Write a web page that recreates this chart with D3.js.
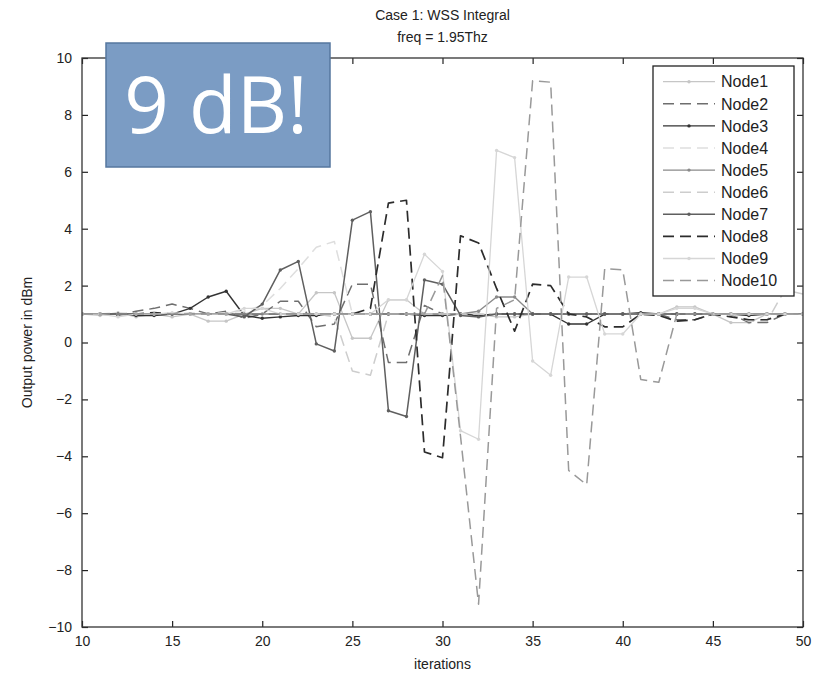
<!DOCTYPE html>
<html>
<head>
<meta charset="utf-8">
<script src="https://cdn.jsdelivr.net/npm/d3@7"></script>
<style>
  body { margin: 0; background: #fff; }
  svg { display: block; font-family: "Liberation Sans", Arial, sans-serif; }
  .tick text { font-size: 14px; fill: #222; }
</style>
</head>
<body>
<svg id="chart" width="825" height="676"></svg>
<script>
/* ---------- data ---------- */
const iterations = d3.range(10, 51);
const nodeNames = ["Node1", "Node2", "Node3", "Node4", "Node5", "Node6", "Node7", "Node8", "Node9", "Node10"];
const xTicks = [10, 15, 20, 25, 30, 35, 40, 45, 50];
const yTicks = [-10, -8, -6, -4, -2, 0, 2, 4, 6, 8, 10];

//             10   11   12   13   14   15   16   17   18   19   20   21   22   23   24   25   26   27   28   29   30   31   32   33   34   35   36   37   38   39   40   41   42   43   44   45   46   47   48   49   50
const node1  = [1.0, 0.95,1.05,0.9, 1.0, 0.9, 1.0, 0.75,0.75,1.0, 1.2, 1.2, 1.0, 1.75,1.75,0.15,0.15,1.5, 1.5, 1.0, 1.0, 1.0, 1.0, 0.9, 0.9, 1.0, 1.0, 1.0, 1.0, 1.0, 1.0, 1.0, 1.0, 1.25,1.25,1.0, 0.7, 0.7, 1.0, 1.0, 1.0];
const node2  = [1.0, 1.0, 0.95,1.1, 1.2, 1.35,1.2, 1.0, 1.1, 0.85,1.0, 1.45,1.45,0.55,0.65,2.05,2.05,-0.7,-0.7,1.3, 1.0, 1.0, 0.95,1.0, 1.0, 1.0, 1.0, 1.0, 1.0, 1.0, 1.0, 1.0, 1.0, 0.8, 0.8, 1.0, 1.0, 0.7, 0.7, 1.0, 1.0];
const node3  = [1.0, 1.0, 1.0, 0.95,0.95,1.0, 1.2, 1.6, 1.8, 0.95,0.85,0.9, 0.95,0.95,1.0, 1.0, 1.0, 1.0, 1.0, 0.95,0.95,1.0, 0.95,1.0, 1.0, 1.0, 1.0, 0.65,0.65,1.0, 1.0, 1.05,1.0, 1.0, 1.0, 1.0, 1.0, 0.95,1.0, 1.0, 1.0];
const node4  = [1.0, 1.0, 1.05,1.0, 1.0, 1.0, 1.05,1.0, 1.05,1.1, 1.3, 1.9, 2.6, 3.35,3.55,1.0, 1.0, 1.0, 1.0, 1.0, 1.0, 1.0, 1.0, 1.0, 1.0, 1.0, 1.0, 1.0, 1.0, 1.0, 1.0, 1.0, 1.0, 1.0, 1.0, 1.0, 1.0, 1.0, 1.0, 1.0, 1.0];
const node5  = [1.0, 1.0, 1.0, 1.0, 1.0, 1.0, 1.0, 1.0, 1.0, 1.0, 1.0, 1.0, 1.0, 1.0, 1.0, 1.0, 1.0, 1.0, 1.0, 1.0, 1.0, 1.0, 1.1, 1.6, 1.6, 1.0, 1.0, 1.0, 1.0, 1.0, 1.0, 1.0, 1.0, 1.0, 1.0, 1.0, 1.0, 1.0, 1.0, 1.0, 1.0];
const node6  = [1.0, 1.0, 1.0, 1.0, 1.0, 1.0, 1.0, 1.0, 1.0, 1.0, 1.0, 1.0, 1.0, 1.0, 0.9, -1.0,-1.15,1.0, 1.0, 1.0, 1.0, 1.0, 1.0, 1.0, 1.0, 1.0, 1.0, 1.0, 1.0, 1.0, 1.0, 1.0, 1.0, 1.0, 1.0, 1.0, 1.0, 0.75,0.75,1.85,1.7];
const node7  = [1.0, 1.0, 1.0, 1.0, 1.0, 1.0, 1.0, 1.0, 1.0, 0.9, 1.35,2.55,2.85,-0.05,-0.3,4.3,4.6, -2.4,-2.6,2.2, 2.05,0.95,0.9, 1.0, 1.0, 1.0, 1.0, 1.0, 1.0, 1.0, 1.0, 1.0, 1.0, 1.0, 1.0, 1.0, 1.0, 1.0, 1.0, 1.0, 1.0];
const node8  = [1.0, 1.0, 1.0, 1.0, 1.05,1.0, 1.0, 1.0, 1.0, 1.0, 1.0, 1.0, 1.0, 1.0, 1.0, 1.0, 1.2, 4.9, 5.0, -3.85,-4.05,3.75,3.5,1.9, 0.4, 2.05,2.0, 1.0, 0.9, 0.55,0.55,1.0, 0.95,0.75,0.8, 1.0, 0.9, 0.8, 0.8, 1.0, 1.0];
const node9  = [1.0, 1.0, 0.9, 1.0, 1.0, 1.05,1.0, 1.0, 1.0, 1.2, 1.2, 1.0, 1.0, 1.0, 1.0, 1.0, 1.0, 1.5, 1.5, 3.1, 2.5, -3.1,-3.4,6.75,6.5, -0.65,-1.15,2.3,2.3, 0.3, 0.3, 1.0, 1.0, 1.2, 1.2, 1.0, 1.0, 1.0, 1.0, 1.0, 1.0];
const node10 = [1.0, 1.0, 1.0, 1.0, 1.0, 1.0, 1.0, 1.0, 1.0, 1.0, 1.0, 1.0, 1.0, 1.0, 1.0, 1.0, 1.0, 1.0, 1.0, 1.0, 2.35,-3.3,-9.2,1.2, 1.5, 9.2, 9.15,-4.5,-5.0,2.6, 2.55,-1.3,-1.4,1.0, 1.0, 1.0, 1.0, 1.0, 1.0, 1.0, 1.0];

const seriesValues = [node1, node2, node3, node4, node5, node6, node7, node8, node9, node10];

// one style per node, in legend order
const nodeStyles = [
  { color: "#c6c6c6", dash: null,   width: 1.3, dot: true },
  { color: "#6e6e6e", dash: "11,6", width: 1.5, dot: false },
  { color: "#333333", dash: null,   width: 1.4, dot: true },
  { color: "#dedede", dash: "11,6", width: 1.5, dot: false },
  { color: "#8a8a8a", dash: null,   width: 1.4, dot: true },
  { color: "#cdcdcd", dash: "11,6", width: 1.5, dot: false },
  { color: "#5f5f5f", dash: null,   width: 1.5, dot: true },
  { color: "#2c2c2c", dash: "11,6", width: 1.7, dot: false },
  { color: "#d6d6d6", dash: null,   width: 1.3, dot: true },
  { color: "#999999", dash: "11,6", width: 1.5, dot: false }
];

/* ---------- layout ---------- */
const svg = d3.select("#chart");
const plot = { left: 82, right: 803, top: 58, bottom: 627 };

const x = d3.scaleLinear().domain([10, 50]).range([plot.left, plot.right]);
const y = d3.scaleLinear().domain([-10, 10]).range([plot.bottom, plot.top]);

svg.append("rect").attr("width", 825).attr("height", 676).attr("fill", "#fff");

/* ---------- axes (matlab style: box, inward ticks) ---------- */
const tickLen = 6;
svg.append("g").attr("class", "axis")
  .attr("transform", `translate(0,${plot.bottom})`)
  .call(d3.axisBottom(x).tickValues(xTicks).tickSize(-tickLen).tickPadding(9).tickSizeOuter(0));
svg.append("g").attr("class", "axis")
  .attr("transform", `translate(0,${plot.top})`)
  .call(d3.axisTop(x).tickValues(xTicks).tickSize(-tickLen).tickFormat("").tickSizeOuter(0));
svg.append("g").attr("class", "axis")
  .attr("transform", `translate(${plot.left},0)`)
  .call(d3.axisLeft(y).tickValues(yTicks).tickSize(-tickLen).tickPadding(10).tickSizeOuter(0));
svg.append("g").attr("class", "axis")
  .attr("transform", `translate(${plot.right},0)`)
  .call(d3.axisRight(y).tickValues(yTicks).tickSize(-tickLen).tickFormat("").tickSizeOuter(0));

svg.selectAll(".axis .domain").remove();
svg.selectAll(".axis .tick line").attr("stroke", "#222").attr("stroke-width", 1.2);
svg.selectAll(".axis .tick text").attr("font-family", "Liberation Sans, Arial, sans-serif");

/* ---------- series ---------- */
const lineGen = d3.line()
  .x((d, i) => x(iterations[i]))
  .y(d => y(d));

const clip = svg.append("clipPath").attr("id", "plotclip")
  .append("rect").attr("x", plot.left).attr("y", plot.top)
  .attr("width", plot.right - plot.left).attr("height", plot.bottom - plot.top);

const seriesG = svg.append("g").attr("clip-path", "url(#plotclip)");

seriesValues.forEach((vals, k) => {
  const st = nodeStyles[k];
  seriesG.append("path")
    .datum(vals)
    .attr("fill", "none")
    .attr("stroke", st.color)
    .attr("stroke-width", st.width)
    .attr("stroke-dasharray", st.dash)
    .attr("stroke-linejoin", "round")
    .attr("d", lineGen);
  if (st.dot) {
    seriesG.selectAll(null)
      .data(vals)
      .join("circle")
      .attr("cx", (d, i) => x(iterations[i]))
      .attr("cy", d => y(d))
      .attr("r", 1.7)
      .attr("fill", st.color);
  }
});

// plot box
svg.append("rect")
  .attr("x", plot.left).attr("y", plot.top)
  .attr("width", plot.right - plot.left).attr("height", plot.bottom - plot.top)
  .attr("fill", "none").attr("stroke", "#333").attr("stroke-width", 1.3);

/* ---------- titles and labels ---------- */
const titleLines = ["Case 1: WSS Integral", "freq = 1.95Thz"];
svg.append("g").selectAll("text")
  .data(titleLines)
  .join("text")
  .attr("x", (plot.left + plot.right) / 2)
  .attr("y", (d, i) => 20 + i * 22)
  .attr("text-anchor", "middle")
  .attr("font-size", 14)
  .attr("fill", "#222")
  .text(d => d);

svg.append("text")
  .attr("x", (plot.left + plot.right) / 2).attr("y", 669)
  .attr("text-anchor", "middle").attr("font-size", 14).attr("fill", "#222")
  .text("iterations");

svg.append("text")
  .attr("transform", `translate(32,${(plot.top + plot.bottom) / 2}) rotate(-90)`)
  .attr("text-anchor", "middle").attr("font-size", 14).attr("fill", "#222")
  .text("Output power in dBm");

/* ---------- legend ---------- */
const legend = svg.append("g");
const lg = { x: 653, y: 66, w: 141, h: 230, row: 22.1, first: 81.7 };
legend.append("rect")
  .attr("x", lg.x).attr("y", lg.y).attr("width", lg.w).attr("height", lg.h)
  .attr("fill", "#fff").attr("stroke", "#222").attr("stroke-width", 1.3);

const rows = legend.selectAll("g.row")
  .data(nodeNames)
  .join("g").attr("class", "row")
  .attr("transform", (d, i) => `translate(0,${lg.first + i * lg.row})`);

rows.append("line")
  .attr("x1", 663).attr("x2", 715)
  .attr("stroke", (d, i) => nodeStyles[i].color)
  .attr("stroke-width", (d, i) => nodeStyles[i].width)
  .attr("stroke-dasharray", (d, i) => nodeStyles[i].dash);
rows.filter((d, i) => nodeStyles[i].dot).append("circle")
  .attr("cx", 689).attr("r", 1.7)
  .attr("fill", (d, i) => nodeStyles[nodeNames.indexOf(d)].color);
rows.append("text")
  .attr("x", 721).attr("dy", "0.36em")
  .attr("font-size", 16).attr("fill", "#222")
  .text(d => d);

/* ---------- callout box ---------- */
const callout = svg.append("g");
callout.append("rect")
  .attr("x", 106).attr("y", 43).attr("width", 224).attr("height", 124)
  .attr("fill", "#7b9cc4").attr("stroke", "#56779f").attr("stroke-width", 1.5);
callout.append("text")
  .attr("x", 216).attr("y", 133)
  .attr("text-anchor", "middle")
  .attr("font-family", "Open Sans, sans-serif")
  .attr("font-size", 78)
  .attr("fill", "#fff")
  .text("9 dB!");
</script>
</body>
</html>
